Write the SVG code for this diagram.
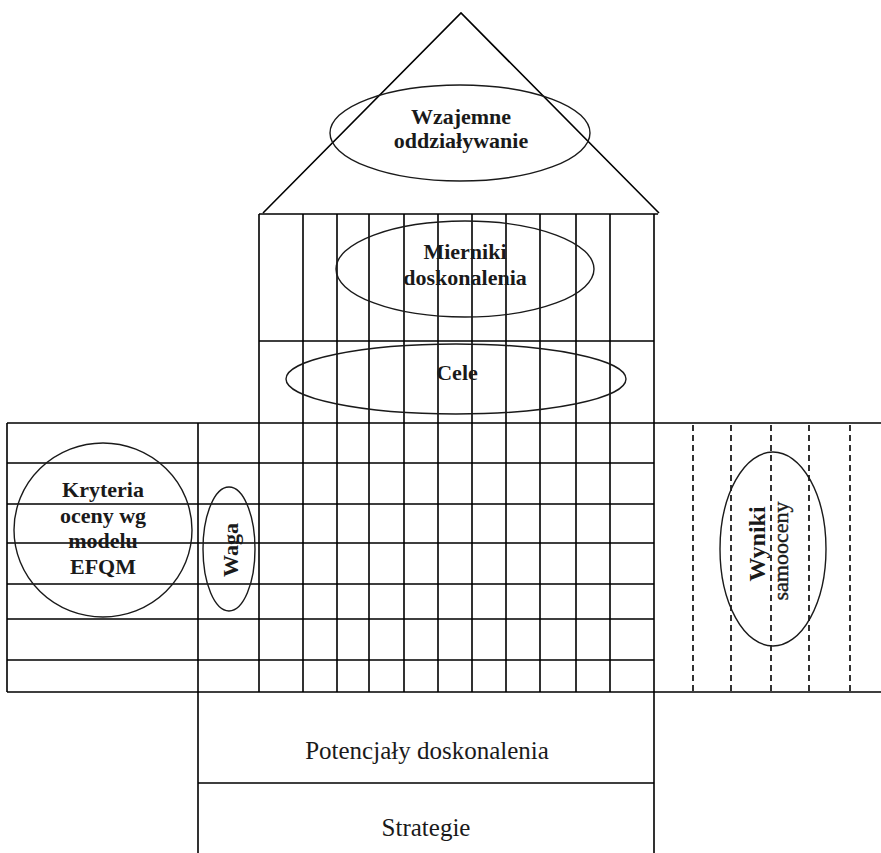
<svg xmlns="http://www.w3.org/2000/svg" width="881" height="853" viewBox="0 0 881 853">
<style>
.ln{stroke:#000;stroke-width:1.6;fill:none}
.dash{stroke:#000;stroke-width:1.6;fill:none;stroke-dasharray:6 4}
.el{stroke:#1a1a1a;stroke-width:1.4;fill:none}
.b{font-family:"Liberation Serif","Times New Roman",serif;font-weight:bold;font-size:22px;fill:#1a1a1a;text-anchor:middle}
.r{font-family:"Liberation Serif","Times New Roman",serif;font-size:25px;fill:#1a1a1a;text-anchor:middle}
</style>
<rect width="881" height="853" fill="#fff"/>
<g id="grid">
<path class="ln" d="M263,213 L461,13 L659,213"/>
<path class="ln" d="M259,214 H658 M259,341 H654 M7,423 H881 M7,692 H881 M7,463 H654 M7,504 H654 M7,543 H654 M7,584 H654 M7,619 H654 M7,660 H654 M198,783 H654"/>
<path class="ln" d="M7,423 V692 M198,423 V853 M654,214 V853 M259,214 V692 M303,214 V692 M337,214 V692 M369,214 V692 M404,214 V692 M438,214 V692 M472,214 V692 M506,214 V692 M540,214 V692 M576,214 V692 M610,214 V692"/>
<path class="dash" d="M693,425 V691 M731,425 V691 M771,425 V691 M809,425 V691 M850,425 V691"/>
</g>
<g id="roof">
<ellipse class="el" cx="460" cy="133" rx="130" ry="48"/>
<text class="b" x="461" y="124">Wzajemne</text>
<text class="b" x="461" y="148">oddziaływanie</text>
</g>
<g id="mierniki">
<ellipse class="el" cx="465" cy="269" rx="129" ry="48"/>
<text class="b" x="465" y="259">Mierniki</text>
<text class="b" x="465" y="285">doskonalenia</text>
</g>
<g id="cele">
<ellipse class="el" cx="456" cy="379" rx="170" ry="35"/>
<text class="b" x="457" y="380">Cele</text>
</g>
<g id="kryteria">
<ellipse class="el" cx="103" cy="530" rx="89" ry="87"/>
<text class="b" x="103" y="497">Kryteria</text>
<text class="b" x="103" y="523">oceny wg</text>
<text class="b" x="103" y="548">modelu</text>
<text class="b" x="103" y="574">EFQM</text>
</g>
<g id="waga">
<ellipse class="el" cx="229" cy="549" rx="26" ry="62"/>
<text class="b" transform="translate(238,550) rotate(-90)">Waga</text>
</g>
<g id="wyniki">
<ellipse class="el" cx="773" cy="549" rx="53" ry="97"/>
<text class="b" style="font-size:24px" transform="translate(765,544) rotate(-90)">Wyniki</text>
<text class="b" style="font-weight:normal;stroke:#1a1a1a;stroke-width:0.4" transform="translate(788,551) rotate(-90)">samooceny</text>
</g>
<g id="potencjaly">
<text class="r" x="427" y="759">Potencjały doskonalenia</text>
</g>
<g id="strategie">
<text class="r" x="426" y="836">Strategie</text>
</g>
</svg>
